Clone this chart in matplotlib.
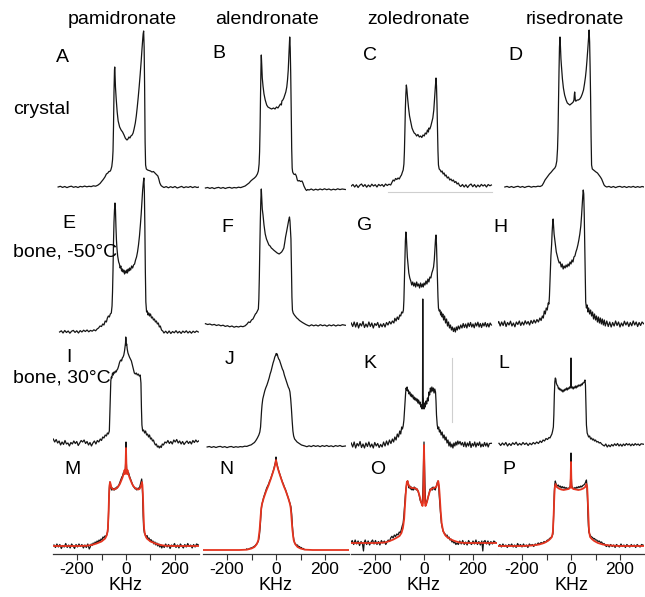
import matplotlib
matplotlib.use('Agg')
import matplotlib.pyplot as plt

plt.rcParams['font.family'] = ['Liberation Sans', 'DejaVu Sans']
plt.rcParams['axes.unicode_minus'] = False

DRUGS = ['pamidronate', 'alendronate', 'zoledronate', 'risedronate']
CONDITIONS = ['crystal', 'bone, -50°C', 'bone, 30°C']
LETTERS = [['A', 'B', 'C', 'D'], ['E', 'F', 'G', 'H'], ['I', 'J', 'K', 'L'], ['M', 'N', 'O', 'P']]
KHZ_TICKS = [-200, 0, 200]
KHZ_MINOR = [-100, 100]

# spectra as (kHz, intensity a.u.)
A = [(-277, 0), (-268, 0.7), (-259, -0.4), (-250, 0.5), (-241, -0.6), (-232, 0.3), (-223, 0.8), (-214, -0.3),
     (-205, 0.4), (-196, -0.5), (-187, 0.6), (-178, 0.1), (-169, 0.9), (-160, 0.2), (-151, 0.7), (-142, 0.4),
     (-133, 1.2), (-124, 0.8), (-115, 1.8), (-106, 3.5), (-98, 6), (-93, 7.5), (-86, 10), (-80, 13), (-74, 14),
     (-70, 15.5), (-66, 15.5), (-62, 17), (-58, 20.5), (-55, 27), (-53, 36), (-51, 60), (-49, 95), (-47, 117),
     (-46, 120), (-45, 114), (-43, 100), (-40, 88), (-36, 75), (-32, 66), (-26, 60), (-20, 57), (-14, 55), (-8, 52),
     (-3, 49), (0, 48), (4, 47), (8, 48), (12, 50), (16, 49), (20, 51), (25, 52), (29, 54), (33, 58), (38, 64),
     (42, 71), (46, 80), (50, 90), (54, 101), (58, 113), (62, 126), (65, 137), (68, 147), (70, 153), (72, 156),
     (74, 140), (76, 100), (78, 45), (80, 22), (83, 18), (88, 17), (94, 16.5), (100, 16), (106, 15), (112, 15.5),
     (118, 14), (124, 12.5), (130, 11), (134, 8), (138, 4), (143, 1.5), (148, 0.5), (155, -0.5), (164, 0.4),
     (173, -0.8), (182, 0.3), (191, -0.6), (200, 0.5), (209, -1), (218, -0.2), (227, 0.6), (236, -0.7), (245, 0.2),
     (254, -0.4), (263, 0.5), (272, -0.6), (281, 0.3), (290, -0.5), (298, 0)]
B = [(-288, 0), (-279, 0.5), (-270, -0.4), (-261, 0.4), (-252, -0.6), (-243, 0.2), (-234, 0.6), (-225, -0.3),
     (-216, 0.5), (-207, -0.5), (-198, 0.3), (-189, 0.6), (-180, -0.2), (-171, 0.5), (-162, 0.1), (-153, 0.8),
     (-144, 0.4), (-135, 1.2), (-126, 2), (-118, 3.5), (-110, 5), (-103, 7), (-96, 8.5), (-88, 10), (-82, 11.5),
     (-76, 14), (-72, 17), (-69, 24), (-67, 36), (-65, 60), (-63, 95), (-61, 125), (-60, 133), (-58, 122),
     (-56, 110), (-53, 102), (-49, 94), (-44, 88), (-38, 83), (-33, 81), (-26, 80), (-18, 79), (-10, 80), (-4, 79),
     (2, 81), (8, 80), (13, 82), (18, 84), (22, 83), (24, 87), (28, 88), (32, 90), (36, 93), (40, 96), (44, 101),
     (47, 108), (50, 118), (53, 135), (56, 151), (58, 140), (60, 115), (62, 80), (64, 40), (66, 20), (68, 16),
     (72, 14), (76, 13.5), (79, 14), (83, 12), (87, 8), (90, 7), (95, 7.5), (100, 6.5), (106, 7), (110, 5),
     (114, 2), (117, 0.5), (121, -1.5), (125, -2.5), (129, -1.5), (135, -2), (144, -1), (153, -2.2), (162, -1.2),
     (171, -2), (180, -1), (189, -1.8), (198, -0.8), (207, -1.7), (216, -1), (225, -2), (234, -1.2), (243, -1.8),
     (252, -0.8), (261, -1.6), (270, -1), (283, -1.5)]
C = [(-297, 0), (-290, 1.5), (-283, -1), (-276, 1.2), (-269, -1.5), (-262, 0.8), (-255, 2), (-248, -0.5),
     (-241, 1.4), (-234, -1.2), (-227, 1), (-220, -0.8), (-213, 1.8), (-206, 0), (-199, 1.3), (-192, -1),
     (-185, 1.6), (-178, 0.2), (-171, 1.5), (-164, -0.6), (-157, 2), (-150, 0.5), (-143, 1.8), (-136, 1),
     (-130, 4), (-126, 6), (-121, 5), (-116, 7.5), (-111, 6.5), (-106, 8), (-101, 7), (-96, 9.5), (-92, 11),
     (-88, 14), (-85, 16), (-82, 22), (-80, 34), (-78, 55), (-76, 78), (-74, 92), (-72, 101), (-70, 97), (-67, 88),
     (-63, 78), (-59, 70), (-54, 64), (-49, 58), (-44, 55), (-40, 53), (-35, 52), (-30, 50), (-25, 51.5), (-19, 49),
     (-14, 50), (-9, 48.5), (-4, 51), (1, 50), (5, 53), (10, 52), (14, 56), (18, 54), (20, 58), (24, 57), (28, 60),
     (32, 64), (36, 68), (40, 76), (43, 87), (46, 98), (49, 108), (51, 100), (53, 82), (55, 58), (57, 35), (59, 21),
     (62, 17), (66, 16), (70, 14), (74, 15), (78, 12), (82, 13), (86, 10), (90, 11), (95, 8), (100, 9), (105, 6),
     (110, 7), (115, 5), (120, 6), (125, 3.5), (130, 4.5), (135, 2), (140, 3), (145, 0.5), (150, -0.5), (157, 1.5),
     (164, -1), (171, 1.2), (178, -1.5), (185, 0.8), (192, 2), (199, -0.7), (206, 1.4), (213, -1.2), (220, 1),
     (227, -0.8), (234, 1.6), (241, 0), (248, 1.3), (255, -1), (262, 1.5), (269, 0.2), (275, 1)]
D = [(-270, 0), (-261, 0.6), (-252, -0.4), (-243, 0.5), (-234, -0.5), (-225, 0.3), (-216, 0.7), (-207, -0.3),
     (-198, 0.5), (-189, -0.5), (-180, 0.4), (-171, 0.7), (-162, -0.2), (-153, 0.5), (-144, 0.2), (-135, 0.8),
     (-126, 0.5), (-118, 1.5), (-112, 4), (-106, 7), (-100, 9), (-94, 11), (-88, 13), (-82, 14.5), (-77, 16),
     (-72, 17.5), (-66, 19), (-62, 21), (-58, 26), (-55, 38), (-53, 55), (-51, 85), (-49, 115), (-47, 140),
     (-45, 150), (-43, 140), (-41, 128), (-39, 121), (-35, 108), (-31, 99), (-26, 92), (-20, 87), (-15, 84),
     (-10, 83), (-5, 82), (0, 83), (5, 84), (9, 85), (12, 87), (14, 93), (15, 95), (16, 92), (18, 86), (21, 86),
     (25, 87), (30, 87), (36, 88), (41, 90), (46, 93), (51, 97), (55, 103), (59, 110), (62, 117), (65, 126),
     (68, 136), (70, 143), (72, 150), (74, 157), (76, 145), (78, 120), (80, 90), (82, 50), (84, 22), (87, 18),
     (92, 17), (97, 16), (102, 15), (108, 14), (114, 12), (120, 10), (125, 8), (130, 5), (135, 2), (140, 0.7),
     (146, 0), (155, 0.6), (164, -0.4), (173, 0.5), (182, -0.6), (191, 0.3), (200, 0.6), (209, -0.3), (218, 0.5),
     (227, -0.5), (236, 0.4), (245, -0.2), (254, 0.6), (263, -0.4), (272, 0.4), (281, -0.3), (290, 0.5), (298, 0)]
E = [(-271, 0), (-264, 1.2), (-257, -1), (-250, 1.5), (-243, -0.5), (-236, 1), (-229, -1.2), (-222, 0.8),
     (-215, 1.6), (-208, -0.4), (-201, 1.2), (-194, -1), (-187, 1.4), (-180, 0), (-173, 1.8), (-166, 0.5),
     (-159, 2), (-152, 0.2), (-145, 1.6), (-138, 0.8), (-131, 2.2), (-124, 1.2), (-118, 3), (-112, 4), (-106, 6),
     (-100, 5.5), (-95, 8), (-90, 7), (-85, 11), (-80, 10), (-76, 14), (-72, 16), (-68, 15), (-64, 18), (-60, 19),
     (-57, 26), (-55, 40), (-53, 62), (-51, 90), (-49, 110), (-47, 122), (-45, 129), (-43, 122), (-41, 105),
     (-39, 92), (-37, 84), (-34, 76), (-30, 70), (-27, 68), (-24, 64), (-21, 66), (-18, 61), (-15, 63), (-12, 60),
     (-9, 62), (-6, 58), (-3, 61), (0, 59), (3, 62), (6, 59), (9, 63), (12, 61), (15, 64), (19, 62), (23, 66),
     (27, 64), (31, 67), (35, 68), (39, 72), (43, 75), (47, 80), (51, 87), (55, 96), (59, 108), (62, 118),
     (65, 130), (68, 142), (71, 150), (73, 154), (75, 140), (77, 105), (79, 60), (81, 30), (84, 20), (87, 21),
     (90, 17), (93, 19), (96, 16), (100, 18), (104, 14), (108, 15), (112, 12), (116, 13), (120, 10), (124, 11),
     (128, 8), (132, 9), (136, 5), (140, 6), (145, 2), (150, 1), (155, -1), (162, 0.8), (169, -1.3), (176, 1),
     (183, -1.5), (190, 0.5), (197, -0.8), (204, 1.3), (211, -1), (218, 0.6), (225, -1.4), (232, 0.9), (239, -0.6),
     (246, 1.2), (253, -1), (260, 0.7), (267, -1.2), (274, 0.8), (281, -0.5), (288, 1), (295, 0)]
F = [(-288, 3.3), (-279, 2.5), (-270, 3), (-261, 2), (-252, 2.6), (-243, 1.5), (-234, 2.2), (-225, 1.2),
     (-216, 1.8), (-207, 0.6), (-198, 1.3), (-189, 0.2), (-180, 1), (-171, -0.2), (-162, 0.6), (-153, 0),
     (-144, 0.8), (-135, 0.3), (-126, 1.2), (-118, 3), (-112, 5), (-106, 4.5), (-100, 7), (-94, 8), (-88, 11),
     (-84, 13), (-80, 14), (-76, 16), (-72, 18), (-70, 28), (-68, 50), (-66, 80), (-64, 106), (-62, 126),
     (-60, 138), (-58, 128), (-56, 118), (-53, 112), (-49, 102), (-44, 93), (-39, 88), (-34, 85), (-29, 82),
     (-24, 81), (-19, 79), (-14, 78), (-10, 77), (-5, 76), (0, 75), (5, 74), (9, 73.5), (13, 73), (18, 74),
     (23, 75), (28, 77), (32, 79), (36, 85), (39, 90), (43, 95), (46, 99), (49, 103), (52, 107), (55, 110),
     (57, 106), (59, 97), (61, 88), (63, 60), (65, 30), (67, 17), (70, 14), (75, 12), (80, 10.5), (85, 9), (90, 8),
     (96, 6.5), (102, 5.5), (108, 4.5), (115, 3.5), (122, 2.5), (129, 1.7), (136, 1), (145, 2.2), (154, 1.2),
     (163, 2), (172, 1), (181, 2.3), (190, 1.3), (199, 2), (208, 0.8), (217, 2.1), (226, 1.2), (235, 2.2),
     (244, 1), (253, 2), (262, 1.4), (271, 2.3), (283, 1.7)]
G = [(-297, 2), (-291, -1.5), (-285, 3), (-279, -2), (-273, 2.5), (-267, -3), (-261, 1.5), (-255, -1),
     (-249, 3.5), (-243, -2.5), (-237, 1), (-231, -2), (-225, 3), (-219, -1.5), (-213, 2), (-207, -3), (-201, 1.5),
     (-195, -0.5), (-189, 2.5), (-183, -2.5), (-177, 1), (-171, -1.8), (-165, 1.5), (-159, -2), (-153, 2.5),
     (-147, 0), (-141, 3.5), (-135, 1), (-129, 4), (-123, 2), (-119, 6.7), (-114, 4), (-109, 8), (-104, 5.5),
     (-99, 10), (-95, 9), (-91, 13), (-87, 12), (-84, 15), (-82, 25), (-80, 45), (-78, 68), (-76, 84), (-74, 93),
     (-72, 88), (-70, 78), (-68, 68), (-65, 60), (-62, 52), (-58, 47), (-54, 44), (-50, 40), (-46, 43), (-42, 39),
     (-38, 42), (-34, 38), (-30, 43), (-26, 39), (-22, 41), (-18, 37), (-14, 42), (-10, 38), (-6, 41), (-3, 38),
     (0, 42), (4, 40), (8, 44), (12, 41), (16, 46), (20, 43), (24, 48), (28, 47), (32, 52), (36, 55), (39, 58),
     (42, 65), (45, 78), (47, 86), (49, 90), (51, 80), (53, 62), (55, 45), (57, 28), (59, 17), (62, 14), (65, 15),
     (68, 10), (71, 13), (74, 8), (77, 11), (80, 5), (84, 9), (88, 2), (92, 6), (96, -1), (100, 3), (104, -3),
     (108, 0), (112, -5), (116, -2), (120, -6.5), (124, -3), (128, -7), (132, -2), (136, -5), (140, -1), (145, -4),
     (150, 0), (155, -3), (160, 1.5), (165, -2.5), (170, 1), (175, -3), (180, 2), (185, -1.5), (190, 2.5),
     (195, -2), (200, 1), (205, -2.8), (210, 2), (215, -1), (220, 2.8), (225, -2), (230, 1.5), (235, -2.5),
     (240, 1.8), (245, -1), (250, 2.5), (255, -1.8), (260, 1.5), (265, -2), (270, 2), (275, 0)]
H_ = [(-301, 0), (-295, 2.5), (-289, -2), (-283, 2), (-277, -1.5), (-271, 3), (-265, -2.5), (-259, 1.5),
      (-253, -1), (-247, 2.8), (-241, -2), (-235, 1), (-229, -2.8), (-223, 2), (-217, -0.5), (-211, 3),
      (-205, -1.5), (-199, 2), (-193, -1), (-187, 3.2), (-181, 0), (-175, 2.5), (-169, -1), (-163, 3.5),
      (-157, 0.5), (-151, 4), (-145, 1), (-139, 4.5), (-133, 2), (-127, 6), (-122, 3.5), (-117, 8), (-113, 6),
      (-109, 13), (-105, 10), (-101, 16), (-97, 14), (-93, 21), (-90, 20), (-88, 28), (-86, 42), (-84, 55),
      (-82, 68), (-79, 80), (-77, 92), (-75, 100), (-73, 105), (-71, 98), (-69, 90), (-66, 84), (-63, 78),
      (-60, 72), (-56, 68), (-52, 64), (-48, 61), (-44, 62), (-40, 57), (-36, 60), (-32, 55), (-28, 58), (-24, 56),
      (-20, 59), (-16, 57), (-12, 60), (-8, 58), (-4, 62), (0, 60), (4, 64), (8, 62), (12, 67), (16, 68), (20, 72),
      (24, 75), (28, 79), (32, 84), (36, 90), (40, 98), (43, 108), (46, 120), (48, 128), (50, 134), (52, 130),
      (54, 110), (56, 80), (58, 45), (60, 22), (63, 16), (66, 19), (69, 12), (72, 16), (76, 10), (80, 14), (84, 8),
      (88, 12), (92, 5), (96, 10), (100, 4), (104, 8), (108, 2), (112, 7), (116, 1), (120, 6), (124, 0), (128, 5),
      (132, -1), (136, 4), (140, -2), (146, 3), (152, -2.5), (158, 2), (164, -3), (170, 1.5), (176, -2), (182, 3),
      (188, -1.5), (194, 2), (200, -3), (206, 1), (212, -2), (218, 2.8), (224, -1), (230, 2), (236, -2.5),
      (242, 1.5), (248, -1.8), (254, 3), (260, -1), (266, 2), (272, -2.5), (278, 1.5), (284, -1.5), (290, 2),
      (298, 0)]
I_ = [(-297, 4), (-291, 1), (-285, 3.5), (-279, 0), (-273, 2), (-267, -2), (-261, 1), (-255, -1.5), (-249, 2.5),
      (-243, -1), (-237, 0), (-231, -3), (-225, 0.5), (-219, -1), (-213, 2), (-207, -0.5), (-201, 1.5),
      (-195, -2.5), (-189, 0), (-183, 2.5), (-177, 1), (-171, 3), (-165, -0.5), (-159, 1.5), (-153, -2),
      (-147, 0.5), (-141, -3), (-135, 0), (-129, 2), (-123, -1), (-117, 2.5), (-111, 1), (-105, 4), (-100, 2.5),
      (-95, 6), (-90, 5), (-85, 8), (-80, 7), (-76, 10), (-72, 9), (-68, 12), (-66, 30), (-64, 50), (-62, 62),
      (-60, 66), (-58, 65), (-55, 70), (-52, 68), (-49, 71), (-46, 70), (-43, 72), (-40, 71), (-37, 73), (-34, 74),
      (-30, 77), (-27, 80), (-24, 82), (-21, 83), (-18, 82), (-15, 85), (-12, 86), (-9, 88), (-6, 92), (-4, 96),
      (-2, 100), (-1, 106), (0, 104), (1, 98), (3, 99), (5, 94), (8, 90), (11, 88), (14, 86), (18, 84), (22, 82),
      (26, 78), (30, 74), (34, 70), (38, 69), (42, 70), (46, 68), (50, 69), (54, 67), (58, 68), (61, 60), (63, 35),
      (65, 18), (68, 12), (72, 13), (76, 10), (80, 12), (84, 8), (88, 9), (92, 6), (96, 8), (100, 4), (104, 5),
      (108, 2), (112, 3), (116, 0), (120, -2), (124, -1), (128, -4), (132, -3), (136, -5), (140, -3), (144, -4.5),
      (148, -1), (153, -2), (159, 1), (165, 0), (171, 2.5), (177, -0.5), (183, 1.5), (189, -1), (195, 3), (201, 1),
      (207, 3.5), (213, 0), (219, 2), (225, -1), (231, 1.5), (237, -1.5), (243, 0.5), (249, 2), (255, -0.5),
      (261, 1.5), (267, -1), (273, 2.5), (279, 0.5), (285, 3), (291, 1), (298, 2.3)]
J = [(-281, 0), (-272, 0.5), (-263, -0.4), (-254, 0.4), (-245, -0.5), (-236, 0.3), (-227, 0.6), (-218, -0.3),
     (-209, 0.4), (-200, -0.6), (-191, 0.2), (-182, 0.5), (-173, -0.4), (-164, 0.3), (-155, -0.2), (-146, 0.4),
     (-137, 0.1), (-128, 0.8), (-119, 0.6), (-110, 1.5), (-101, 2.2), (-94, 3.5), (-88, 4.5), (-82, 6.5), (-76, 9),
     (-70, 12), (-66, 15), (-63, 20), (-61, 28), (-59, 36), (-57, 42), (-54, 48), (-50, 52), (-46, 56), (-42, 59),
     (-37, 62), (-33, 65), (-28, 69), (-24, 73), (-20, 76), (-16, 80), (-12, 84), (-8, 87), (-5, 90), (-3, 91),
     (-1, 92), (1, 93.5), (3, 92), (5, 93), (8, 90), (11, 88), (14, 87), (18, 84), (22, 81), (26, 78), (30, 76),
     (34, 72), (38, 69), (42, 66), (46, 63), (50, 60), (54, 58), (57, 55), (60, 48), (63, 38), (66, 26), (69, 16),
     (72, 11), (76, 8), (81, 6.5), (86, 5), (92, 4), (98, 3), (104, 2), (111, 1.5), (118, 1), (126, 0.3),
     (135, 1.2), (144, 0.4), (153, 1.5), (162, 0.6), (171, 1.3), (180, 0.3), (189, 1.4), (198, 0.6), (207, 1.5),
     (216, 0.5), (225, 1.2), (234, 0.3), (243, 1.4), (252, 0.7), (261, 1.5), (270, 0.5), (283, 1)]
K = [(-297, 2), (-291, -2), (-285, 3), (-279, -3), (-273, 1.5), (-267, -1), (-261, 3.5), (-255, -2.5), (-249, 1),
     (-243, -3), (-237, 2), (-231, -1.5), (-225, 3), (-219, -2), (-213, 1), (-207, -3), (-201, 2.5), (-195, -1),
     (-189, 1.5), (-183, -2.5), (-177, 0.5), (-171, -2), (-165, 3), (-159, -1), (-153, 4), (-147, 0), (-141, 5),
     (-135, 1.5), (-129, 6), (-124, 3), (-119, 8), (-114, 5), (-109, 11), (-104, 8), (-99, 14), (-95, 11),
     (-91, 18), (-88, 16), (-85, 19), (-82, 25), (-78, 40), (-75, 52), (-73, 57), (-71, 55), (-69, 58), (-67, 54),
     (-64, 55), (-61, 51), (-58, 53), (-55, 49), (-52, 51), (-49, 48), (-46, 50), (-43, 46), (-40, 48), (-37, 45),
     (-34, 47), (-31, 44), (-28, 46), (-25, 42), (-22, 45), (-19, 41), (-16, 43), (-13, 38), (-10, 40), (-8, 36),
     (-6, 45), (-5, 146), (-4, 50), (-2, 38), (0, 36), (2, 42), (5, 38), (8, 44), (11, 41), (14, 47), (17, 44),
     (20, 53), (23, 50), (26, 57), (29, 53), (32, 58), (35, 54), (38, 57), (41, 52), (44, 56), (47, 53), (49, 44),
     (51, 30), (54, 20), (57, 16), (60, 18), (63, 13), (66, 15), (70, 10), (74, 13), (78, 7), (82, 10), (86, 5),
     (90, 8), (94, 2), (98, 5), (102, -1), (106, 3), (110, -2), (114, 1), (118, -3), (122, 2), (126, -1), (130, 3),
     (134, 0), (138, 4), (142, 1), (147, 3.5), (152, 0), (157, 2.5), (162, -1.5), (167, 3), (172, -2), (177, 2),
     (182, -1), (187, 3.5), (192, -2.5), (197, 1.5), (202, -1), (207, 3), (212, -2), (217, 2), (222, -0.5),
     (227, 3), (232, -2), (237, 1), (242, -1.5), (247, 2.5), (252, -1), (257, 2), (262, -2), (267, 1.5), (275, 1.7)]
L = [(-294, 1.7), (-287, -0.5), (-280, 2), (-273, 0), (-266, 2.5), (-259, -1), (-252, 1.5), (-245, -0.5),
     (-238, 2.2), (-231, 0.5), (-224, 2.8), (-217, -0.3), (-210, 1.6), (-203, 0), (-196, 2.5), (-189, 0.5),
     (-182, 2), (-175, -0.5), (-168, 1.8), (-161, 0.3), (-154, 2.5), (-147, 1), (-140, 3), (-133, 1.5), (-126, 4),
     (-120, 2.5), (-114, 5), (-108, 4), (-102, 6.5), (-96, 5.5), (-90, 7.5), (-86, 7), (-82, 9), (-78, 11),
     (-75, 14), (-72, 18), (-70, 30), (-68, 50), (-66, 63), (-64, 67), (-62, 66), (-60, 62), (-57, 60), (-54, 59),
     (-51, 56), (-48, 57), (-45, 55), (-42, 56), (-39, 54), (-36, 55), (-33, 53), (-30, 55), (-27, 54), (-24, 56),
     (-21, 55), (-18, 57), (-15, 55), (-12, 57), (-9, 56), (-6, 58), (-3, 57), (-1, 60), (0, 87), (1, 60), (3, 57),
     (6, 58), (9, 56), (12, 58), (15, 57), (18, 59), (21, 57), (24, 59), (27, 58), (30, 60), (33, 59), (36, 60),
     (39, 59), (42, 61), (45, 60), (48, 62), (51, 62), (54, 63), (57, 65), (59, 60), (61, 40), (63, 20), (66, 12),
     (69, 10), (72, 8), (76, 9), (80, 6), (84, 7), (88, 5), (92, 6), (96, 4), (100, 5), (105, 3), (110, 3.5),
     (115, 2), (120, 2.5), (125, 1), (130, 0), (136, -1), (142, 1), (148, -2), (154, 0), (160, -1.7), (166, 0.5),
     (172, -1), (178, 1.2), (184, -0.5), (190, 1.5), (196, -1), (202, 0.8), (208, -1.2), (214, 1), (220, -0.6),
     (226, 1.5), (232, 0), (238, 1.2), (244, -0.8), (250, 1), (256, -0.5), (262, 1.4), (268, 0), (274, 1),
     (280, -0.5), (286, 1.2), (298, 0.7)]
M = [(-294, 1), (-288, -1.5), (-282, 2), (-276, -1), (-270, 1.5), (-264, -2.5), (-258, 0.5), (-252, -1),
     (-246, 2.5), (-240, -1.5), (-234, 1), (-228, -2), (-222, 2), (-216, 0), (-210, -2.5), (-204, 1.5), (-198, -1),
     (-192, 2), (-186, -0.5), (-180, 1.5), (-174, -2), (-168, 1), (-162, -1.5), (-156, 2), (-150, -3), (-146, -1),
     (-142, 2), (-138, 0.5), (-134, 3), (-130, 1.5), (-126, 4), (-122, 2.5), (-118, 5), (-114, 3.5), (-110, 6),
     (-106, 4.5), (-102, 7), (-98, 6), (-94, 9), (-90, 8), (-86, 10), (-82, 9.5), (-78, 12), (-75, 14), (-72, 25),
     (-70, 45), (-68, 58), (-66, 64), (-64, 63), (-62, 58), (-59, 56), (-56, 58), (-53, 56), (-50, 57.5), (-47, 56),
     (-44, 58), (-41, 57), (-38, 59), (-35, 58), (-32, 60), (-29, 61), (-26, 63), (-23, 65), (-20, 67), (-17, 69),
     (-14, 70), (-11, 73), (-8, 74), (-5, 72), (-3, 76), (-1, 85), (0, 104), (1, 85), (3, 76), (5, 72), (8, 74),
     (11, 73), (14, 70), (17, 68), (20, 66), (23, 64), (26, 62), (29, 60), (32, 59), (35, 58), (38, 57), (41, 58),
     (44, 56), (47, 57), (50, 58), (53, 57), (56, 59), (59, 62), (62, 65), (64, 67), (66, 62), (68, 48), (70, 30),
     (72, 18), (75, 13), (78, 12), (82, 9), (86, 10.5), (90, 7), (94, 8), (98, 5), (102, 6.5), (106, 4), (110, 5),
     (114, 2), (118, 4), (122, 1), (126, 3), (130, 0), (134, 2), (138, -1), (142, 1.5), (146, -2), (150, 0.5),
     (156, -1.5), (162, 2), (168, -1), (174, 1.5), (180, -2.5), (186, 1), (192, -0.5), (198, 2.5), (204, -1.5),
     (210, 1), (216, -2), (222, 2), (228, 0), (234, -2), (240, 1.5), (246, -1), (252, 2.5), (258, -0.5), (264, 1),
     (270, -2), (276, 1.5), (282, -1), (288, 2), (298, 0.7)]
N = [(-120, 1), (-114, 0.5), (-108, 1.5), (-102, 2), (-96, 2.5), (-90, 3.5), (-84, 4.5), (-80, 6), (-76, 7),
     (-72, 9), (-68, 14), (-64, 25), (-61, 38), (-58, 45), (-55, 48), (-50, 53), (-46, 56), (-42, 59), (-38, 62),
     (-34, 64), (-30, 66), (-26, 69), (-22, 71), (-18, 74), (-14, 77), (-10, 80), (-7, 83), (-4, 86), (-2, 88),
     (-1, 90), (0, 93), (1, 90), (2, 88), (4, 86), (7, 83), (10, 80), (14, 77), (18, 74), (22, 71), (26, 68),
     (30, 66), (34, 63), (38, 61), (42, 58), (46, 55), (50, 52), (54, 49), (58, 46), (61, 43), (64, 36), (67, 24),
     (70, 15), (73, 10), (76, 7), (80, 6), (84, 4.5), (88, 5), (92, 3), (96, 3.5), (100, 2), (104, 2.5), (108, 1),
     (112, 1.5), (115, 0.5)]
O = [(-299, 0), (-293, 2.5), (-287, -1.5), (-281, 3), (-275, -1), (-269, 2), (-263, -2.5), (-257, 1.5),
     (-251, -1), (-247, -8), (-244, 0.5), (-240, 3), (-234, -1.5), (-228, 2), (-222, -2), (-216, 1), (-210, 3),
     (-204, -1), (-198, 2.5), (-192, -1.5), (-186, 1.5), (-180, -2), (-174, 2.5), (-168, 0), (-162, 2),
     (-156, -1.5), (-151, 1), (-146, 3), (-141, 1.5), (-136, 5), (-131, 6.7), (-126, 5), (-121, 8), (-116, 6.5),
     (-111, 9), (-106, 8), (-101, 11), (-97, 10), (-93, 13), (-89, 17), (-85, 20), (-82, 28), (-79, 38), (-76, 48),
     (-73, 55), (-70, 60), (-67, 62), (-64, 58), (-61, 55), (-58, 57), (-55, 54), (-52, 56), (-49, 53), (-46, 55),
     (-43, 53), (-40, 56), (-37, 54), (-34, 55), (-31, 53), (-28, 54), (-25, 52), (-22, 50), (-19, 47), (-16, 43),
     (-13, 41), (-10, 40), (-8, 40), (-6, 44), (-4, 58), (-2, 80), (0, 101), (2, 80), (4, 58), (6, 44), (8, 40),
     (10, 40), (13, 42), (16, 45), (19, 48), (22, 51), (25, 54), (28, 53), (31, 55), (34, 53), (37, 56), (40, 54),
     (43, 55), (46, 53), (49, 56), (52, 58), (55, 61), (57, 62), (60, 56), (62, 48), (65, 38), (68, 28), (71, 20),
     (74, 16), (78, 12), (82, 10), (86, 9), (90, 7), (94, 8), (98, 5), (102, 6), (106, 3), (110, 4), (114, 1),
     (118, 2), (122, 0), (126, 1), (130, -1.5), (135, 0), (140, -1.5), (146, 2), (152, -1), (158, 2.5),
     (164, -1.5), (170, 1), (176, -2), (182, 2.5), (188, 0), (194, -1.5), (200, 2), (206, -1), (212, 3),
     (218, -1.5), (224, 1.5), (230, -2), (236, 2), (240, -8), (243, 1), (249, 2.5), (255, -1), (261, 2), (267, -2),
     (273, 1.5), (279, -1), (285, 2), (295, 0)]
P = [(-296, 0), (-290, 1.5), (-284, -1), (-278, 2), (-272, -0.5), (-266, 1), (-260, -1.5), (-254, 1.5),
     (-248, 0), (-242, 2), (-236, -1), (-230, 1), (-224, -1.5), (-218, 2.5), (-212, 0), (-206, 1.5), (-200, -1),
     (-194, 2), (-188, -0.5), (-182, 1), (-176, -1.5), (-170, 2), (-164, 0.5), (-158, 1.5), (-152, -0.5),
     (-146, 2), (-140, 1), (-134, 3), (-128, 2), (-122, 3.5), (-116, 2.5), (-110, 4.5), (-104, 3.5), (-100, 5),
     (-96, 6), (-92, 5.5), (-88, 7.5), (-84, 8), (-80, 9), (-77, 10), (-74, 12), (-72, 22), (-70, 40), (-68, 55),
     (-66, 62), (-64, 65), (-62, 63), (-59, 61), (-56, 60), (-52, 61), (-48, 59), (-44, 60), (-40, 58),
     (-36, 59.5), (-32, 58), (-28, 59), (-24, 57.5), (-20, 58.5), (-16, 57), (-12, 58), (-8, 57.5), (-5, 59),
     (-3, 60), (-1, 70), (0, 93), (1, 70), (3, 60), (5, 59), (8, 58), (12, 57), (16, 58.5), (20, 57.5), (24, 59),
     (28, 58), (32, 59.5), (36, 58.5), (40, 60), (44, 59), (48, 60.5), (52, 61), (56, 62), (60, 64), (63, 66),
     (65, 60), (67, 48), (69, 32), (71, 20), (73, 14), (76, 12), (80, 10), (84, 9), (88, 8.5), (92, 7), (96, 7.5),
     (100, 6), (105, 6), (110, 4.5), (115, 5), (120, 3.5), (125, 4), (130, 2), (135, 2.5), (140, 0.5), (145, -0.5),
     (150, 1), (156, -1), (162, 1.5), (168, -0.5), (174, 1), (180, -1.5), (186, 1.5), (192, 0), (198, -1), (204, 2),
     (210, -0.5), (216, 1), (222, -1.5), (228, 1.5), (234, 0), (240, -1), (246, 1.5), (252, -0.5), (258, 1),
     (264, -1.5), (270, 1.5), (276, 0), (282, -1), (288, 1.5), (302, 0)]

# simulated line shapes (red) for the bottom row
M_FIT = [(-294, 0), (-200, 0), (-160, 0.3), (-140, 1), (-120, 2.5), (-100, 4.5), (-85, 7.5), (-78, 11), (-74, 17),
         (-71, 35), (-69, 52), (-67, 61), (-65, 64), (-63, 62), (-60, 59), (-55, 57), (-50, 56.5), (-45, 57),
         (-40, 57.5), (-35, 58.5), (-30, 60), (-25, 62), (-20, 65), (-15, 68), (-11, 71), (-8, 73), (-6, 76),
         (-4, 72), (-2, 78), (0, 98), (2, 78), (4, 72), (6, 76), (8, 73), (11, 71), (15, 68), (20, 65), (25, 62),
         (30, 60), (35, 58.5), (40, 57.5), (45, 57), (50, 56.5), (55, 57), (60, 59), (63, 62), (65, 64), (67, 61),
         (69, 52), (71, 35), (74, 17), (78, 11), (85, 7.5), (100, 4.5), (120, 2.5), (140, 1), (160, 0.3), (200, 0),
         (298, 0)]
N_FIT = [(-297, 0), (-150, 0), (-120, 0.3), (-100, 1.5), (-88, 3), (-78, 6), (-72, 10), (-67, 20), (-63, 33),
         (-60, 42), (-57, 46), (-50, 52), (-40, 59), (-30, 65), (-20, 72), (-12, 78), (-6, 83), (-3, 86), (-1, 89),
         (0, 90), (1, 89), (3, 86), (6, 83), (12, 78), (20, 72), (30, 65), (40, 59), (50, 52), (57, 46), (60, 42),
         (63, 33), (67, 20), (72, 10), (78, 6), (88, 3), (100, 1.5), (120, 0.3), (150, 0), (297, 0)]
O_FIT = [(-299, 0), (-200, 0), (-160, 0.5), (-140, 2), (-125, 3.5), (-110, 5.5), (-100, 7), (-92, 10), (-86, 15),
         (-81, 24), (-77, 40), (-73, 55), (-70, 61), (-67, 62), (-64, 59), (-58, 56), (-50, 55), (-40, 55),
         (-30, 54), (-24, 52), (-18, 47), (-12, 41), (-8, 38), (-6, 37), (-4, 40), (-2, 60), (-1, 85), (0, 98),
         (1, 85), (2, 60), (4, 40), (6, 37), (8, 38), (12, 41), (18, 47), (24, 52), (30, 54), (40, 55), (50, 56),
         (55, 60), (58, 62), (61, 58), (64, 48), (68, 32), (72, 20), (78, 12), (86, 8), (96, 5.5), (110, 3.5),
         (125, 2), (145, 0.5), (170, 0), (299, 0)]
P_FIT = [(-296, 0), (-200, 0), (-160, 0.5), (-130, 1.5), (-110, 3), (-95, 5), (-85, 7), (-78, 9), (-74, 14),
         (-71, 30), (-68, 50), (-66, 59), (-63, 62), (-58, 59), (-50, 57.5), (-40, 56.5), (-30, 56), (-20, 56.5),
         (-10, 57), (-4, 58), (-2, 62), (-1, 72), (0, 84), (1, 72), (2, 62), (4, 58), (10, 57), (20, 56.5),
         (30, 56), (40, 56.5), (50, 57.5), (58, 59), (63, 62), (66, 59), (68, 50), (71, 30), (74, 14), (78, 9),
         (85, 7), (95, 5), (110, 3), (130, 1.5), (160, 0.5), (200, 0), (302, 0)]

SPECTRA = [[A, B, C, D], [E, F, G, H_], [I_, J, K, L], [M, N, O, P]]
FITS = [M_FIT, N_FIT, O_FIT, P_FIT]

# faint scanning marks in the original figure: (row, col, kHz range, intensity range)
FAINT_LINES = [(0, 2, (-147, 278), (-6, -6)), (2, 2, (114, 114), (23, 87))]

# ---- layout (pixels of the 645x597 figure) ----
W, H = 645, 597
COL_ZERO = [126, 276, 424, 571]
PX_PER_KHZ = 0.245
XLIM = (-297, 297)
BASELINE = [[187, 188, 186, 187], [332, 327, 325, 324], [443, 447, 445, 445], [546, 550, 543, 546]]
AXIS_Y = 554
LETTER_XY = [[(62, 57), (219, 54), (370, 55), (515, 55)],
             [(69, 223), (227, 228), (365, 225), (500, 228)],
             [(69, 357), (230, 359), (370, 363), (504, 364)],
             [(73, 469), (226, 469), (378, 470), (509, 469)]]
TITLE_X = [122, 267, 418, 575]
COND_Y = [110, 252, 378]

fig = plt.figure(figsize=(W / 100, H / 100), dpi=100)

for r in range(4):
    for c in range(4):
        base = BASELINE[r][c]
        top = base - 178
        bottom = AXIS_Y if r == 3 else base + 10
        left = COL_ZERO[c] + XLIM[0] * PX_PER_KHZ
        width = (XLIM[1] - XLIM[0]) * PX_PER_KHZ
        ax = fig.add_axes([left / W, 1 - bottom / H, width / W, (bottom - top) / H])
        ax.set_facecolor('none')
        ax.set_xlim(XLIM)
        ax.set_ylim(-(bottom - base), base - top)

        xs, ys = zip(*SPECTRA[r][c])
        ax.plot(xs, ys, color='#151515', lw=0.9)
        if r == 3:
            fx, fy = zip(*FITS[c])
            ax.plot(fx, fy, color='#e5341f', lw=1.3)

        for fr, fc, xr, yr in FAINT_LINES:
            if fr == r and fc == c:
                ax.plot(xr, yr, color='#cfcfcf', lw=0.8)

        for s in ['top', 'right', 'left']:
            ax.spines[s].set_visible(False)
        ax.set_yticks([])
        if r == 3:
            ax.spines['bottom'].set_linewidth(0.9)
            ax.spines['bottom'].set_color('#333333')
            ax.set_xticks(KHZ_TICKS)
            ax.set_xticks(KHZ_MINOR, minor=True)
            ax.tick_params(axis='x', which='both', direction='out', length=4, width=0.8,
                           color='#333333', labelsize=12.5, pad=2)
            ax.set_xlabel('KHz', fontsize=13, labelpad=0)
        else:
            ax.spines['bottom'].set_visible(False)
            ax.set_xticks([])

        lx, ly = LETTER_XY[r][c]
        fig.text(lx / W, 1 - ly / H, LETTERS[r][c], fontsize=14, ha='center', va='center')

for c, name in enumerate(DRUGS):
    fig.text(TITLE_X[c] / W, 1 - 20 / H, name, fontsize=14, ha='center', va='center')

for i, cond in enumerate(CONDITIONS):
    fig.text(13 / W, 1 - COND_Y[i] / H, cond, fontsize=14, ha='left', va='center')

fig.savefig('out.png', dpi=100)
